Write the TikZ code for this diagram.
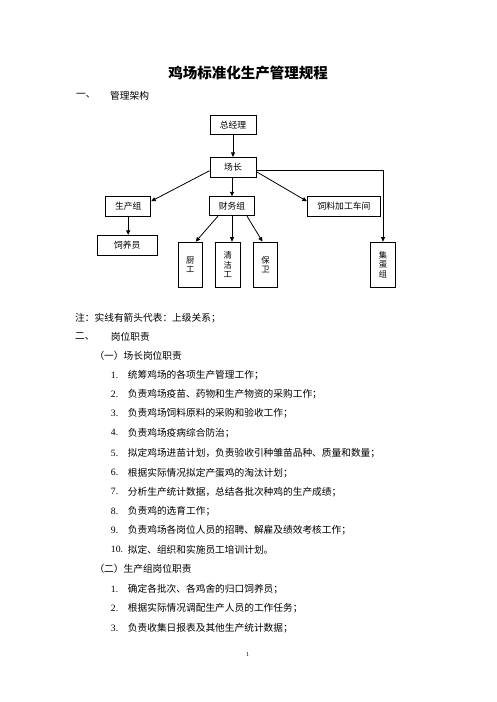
\documentclass[tikz,border=0pt]{standalone}
\usepackage{fontspec}
\setmainfont{Liberation Serif}
\newfontfamily\cjk{Noto Sans CJK SC}
\usetikzlibrary{arrows.meta,calc}
\begin{document}
\begin{tikzpicture}[x=1pt,y=-1pt,
 box/.style={draw,line width=0.8pt,inner sep=0pt,font=\cjk\fontsize{8.8}{10}\selectfont},
 vbox/.style={box,align=center,font=\cjk\fontsize{8.3}{9.3}\selectfont},
 arr/.style={line width=0.8pt,-{Triangle[length=4.5pt,width=4pt]}},
 body/.style={anchor=west,inner sep=0pt,font=\cjk\fontsize{9.7}{11}\selectfont},
 num/.style={anchor=west,inner sep=0pt,font=\fontsize{9.7}{11}\selectfont}]
\useasboundingbox[fill=white] (0,0) rectangle (496,702);
% title
\node[inner sep=0pt,font=\cjk\bfseries\fontsize{14.5}{16}\selectfont] (title) at (248,72.7) {鸡场标准化生产管理规程};
\node[body] (h1n) at (76,95.7) {一、};
\node[body] (h1) at (110,95.7) {管理架构};
% org chart
\node[box,minimum width=46pt,minimum height=19.3pt] (zjl) at (233,124.7) {总经理};
\node[box,minimum width=46pt,minimum height=20pt] (cz) at (233,167.3) {场长};
\node[box,minimum width=45pt,minimum height=19.3pt] (scz) at (128.2,206.3) {生产组};
\node[box,minimum width=45pt,minimum height=19pt] (cwz) at (232,206.2) {财务组};
\node[box,minimum width=73.4pt,minimum height=19.3pt] (slj) at (344,206.3) {饲料加工车间};
\node[box,minimum width=60pt,minimum height=20pt] (syy) at (127.3,245.3) {饲养员};
\node[vbox,minimum width=24pt,minimum height=45.3pt] (cg) at (190.3,264.7) {厨\\工};
\node[vbox,minimum width=25pt,minimum height=45.3pt] (qjg) at (227.8,264.7) {清\\洁\\工};
\node[vbox,minimum width=24.4pt,minimum height=45.3pt] (bw) at (265.5,264.7) {保\\卫};
\node[vbox,minimum width=24.6pt,minimum height=45.3pt] (jdz) at (383,264.7) {集\\蛋\\组};
\draw[arr] (zjl.south) -- (cz.north);
\draw[arr] ($(cz.west)+(0,3.4)$) -- ($(scz.north east)+(0,5)$);
\draw[arr] ($(cz.east)+(0,4.4)$) -- ($(slj.north west)+(0,5)$);
\draw[arr] (cwz.north |- cz.south) -- (cwz.north);
\draw[arr] ($(cz.east)+(0,2.7)$) -| (jdz.north);
\draw[arr] (scz.south) -- (scz.south |- syy.north);
\draw[arr] ($(cwz.south)+(-14,0)$) -- ($(cg.north)+(5.4,0)$);
\draw[arr] (cwz.south) -- (cwz.south |- qjg.north);
\draw[arr] ($(cwz.south)+(15,0)$) -- ($(bw.north)+(-3,0)$);
% text
\node[body] (note) at (75,317.7) {注：实线有箭头代表：上级关系；};
\node[body] (h2n) at (75,336.7) {二、};
\node[body] (h2) at (110.7,336.7) {岗位职责};
\node[body] (s1) at (94.3,355.7) {（一）场长岗位职责};
\node[num] (n1) at (110.7,375) {1.};
\node[body] (t1) at (127.7,375) {统筹鸡场的各项生产管理工作；};
\node[num] (n2) at (110.7,394.3) {2.};
\node[body] (t2) at (127.7,394.3) {负责鸡场疫苗、药物和生产物资的采购工作；};
\node[num] (n3) at (110.7,413.3) {3.};
\node[body] (t3) at (127.7,413.3) {负责鸡场饲料原料的采购和验收工作；};
\node[num] (n4) at (110.7,432.7) {4.};
\node[body] (t4) at (127.7,432.7) {负责鸡场疫病综合防治；};
\node[num] (n5) at (110.7,453.3) {5.};
\node[body] (t5) at (127.7,453.3) {拟定鸡场进苗计划，负责验收引种雏苗品种、质量和数量；};
\node[num] (n6) at (110.7,472.7) {6.};
\node[body] (t6) at (127.7,472.7) {根据实际情况拟定产蛋鸡的淘汰计划；};
\node[num] (n7) at (110.7,491.7) {7.};
\node[body] (t7) at (127.7,491.7) {分析生产统计数据，总结各批次种鸡的生产成绩；};
\node[num] (n8) at (110.7,511) {8.};
\node[body] (t8) at (127.7,511) {负责鸡的选育工作；};
\node[num] (n9) at (110.7,530) {9.};
\node[body] (t9) at (127.7,530) {负责鸡场各岗位人员的招聘、解雇及绩效考核工作；};
\node[num] (n10) at (110.7,549.3) {10.};
\node[body] (t10) at (127.7,549.3) {拟定、组织和实施员工培训计划。};
\node[body] (s2) at (94.3,569.3) {（二）生产组岗位职责};
\node[num] (m1) at (110.7,589.3) {1.};
\node[body] (u1) at (127.7,589.3) {确定各批次、各鸡舍的归口饲养员；};
\node[num] (m2) at (110.7,608.3) {2.};
\node[body] (u2) at (127.7,608.3) {根据实际情况调配生产人员的工作任务；};
\node[num] (m3) at (110.7,628.3) {3.};
\node[body] (u3) at (127.7,628.3) {负责收集日报表及其他生产统计数据；};
\node[inner sep=0pt,font=\fontsize{6}{7}\selectfont] (pg) at (247.7,655) {1};
\end{tikzpicture}
\end{document}
